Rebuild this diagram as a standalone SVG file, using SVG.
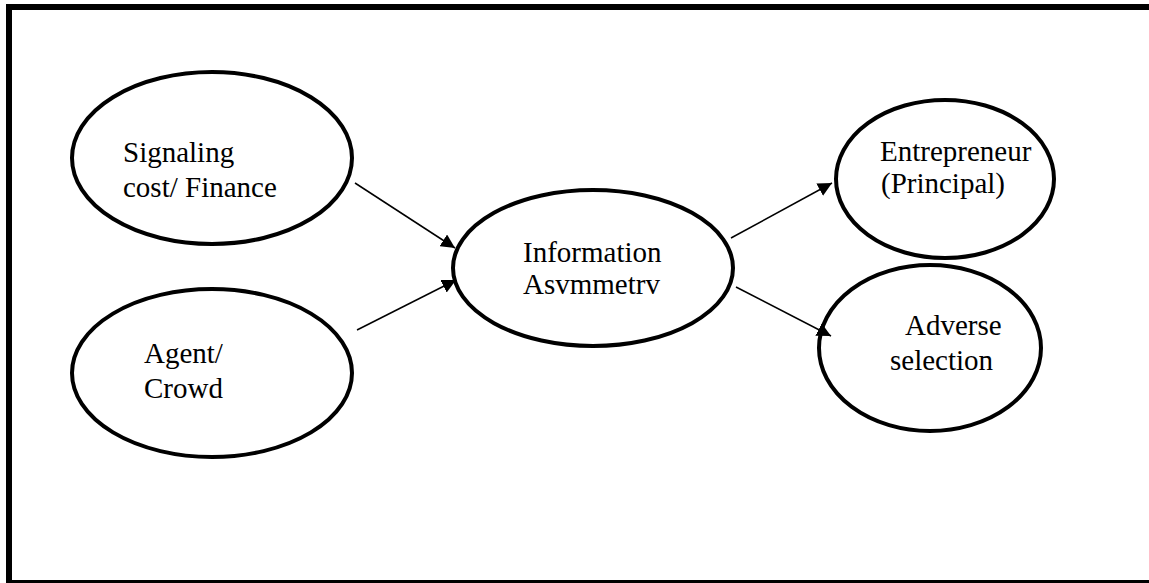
<svg xmlns="http://www.w3.org/2000/svg" width="1149" height="583" viewBox="0 0 1149 583">
<style>
.node ellipse{fill:none;stroke:#000;stroke-width:4}
.node text{font-family:"Liberation Serif","Times New Roman",serif;font-size:29px;fill:#000}
.conn line{stroke:#000;stroke-width:1.5}
</style>
<defs>
<marker id="ah" viewBox="0 0 10 10" refX="10" refY="5" markerWidth="14" markerHeight="14" markerUnits="userSpaceOnUse" orient="auto">
<path d="M0,0 L10,5 L0,10 z" fill="#000"/>
</marker>
</defs>
<rect width="1149" height="583" fill="#fff"/>
<g id="frame" fill="#000">
<rect x="6" y="4" width="1143" height="6"/>
<rect x="6" y="4" width="6" height="579"/>
<rect x="6" y="580" width="1143" height="3"/>
</g>
<g id="signaling" class="node">
<ellipse cx="212" cy="158" rx="140" ry="86"/>
<text x="123" y="162">Signaling</text>
<text x="123" y="197">cost/ Finance</text>
</g>
<g id="agent" class="node">
<ellipse cx="212" cy="373" rx="140" ry="84"/>
<text x="144" y="363">Agent/</text>
<text x="144" y="398">Crowd</text>
</g>
<g id="info" class="node">
<ellipse cx="593" cy="268" rx="140" ry="78"/>
<text x="523" y="262">Information</text>
<text x="523" y="294">Asvmmetrv</text>
</g>
<g id="entrepreneur" class="node">
<ellipse cx="945" cy="179" rx="109" ry="79"/>
<text x="880" y="161">Entrepreneur</text>
<text x="881" y="193">(Principal)</text>
</g>
<g id="adverse" class="node">
<ellipse cx="930" cy="348" rx="111" ry="83"/>
<text x="905" y="335">Adverse</text>
<text x="890" y="370">selection</text>
</g>
<g class="conn">
<line x1="355" y1="183" x2="455" y2="248" marker-end="url(#ah)"/>
<line x1="357" y1="330" x2="456" y2="280" marker-end="url(#ah)"/>
<line x1="731" y1="238" x2="832" y2="183" marker-end="url(#ah)"/>
<line x1="736" y1="287" x2="831" y2="336" marker-end="url(#ah)"/>
</g>
</svg>
